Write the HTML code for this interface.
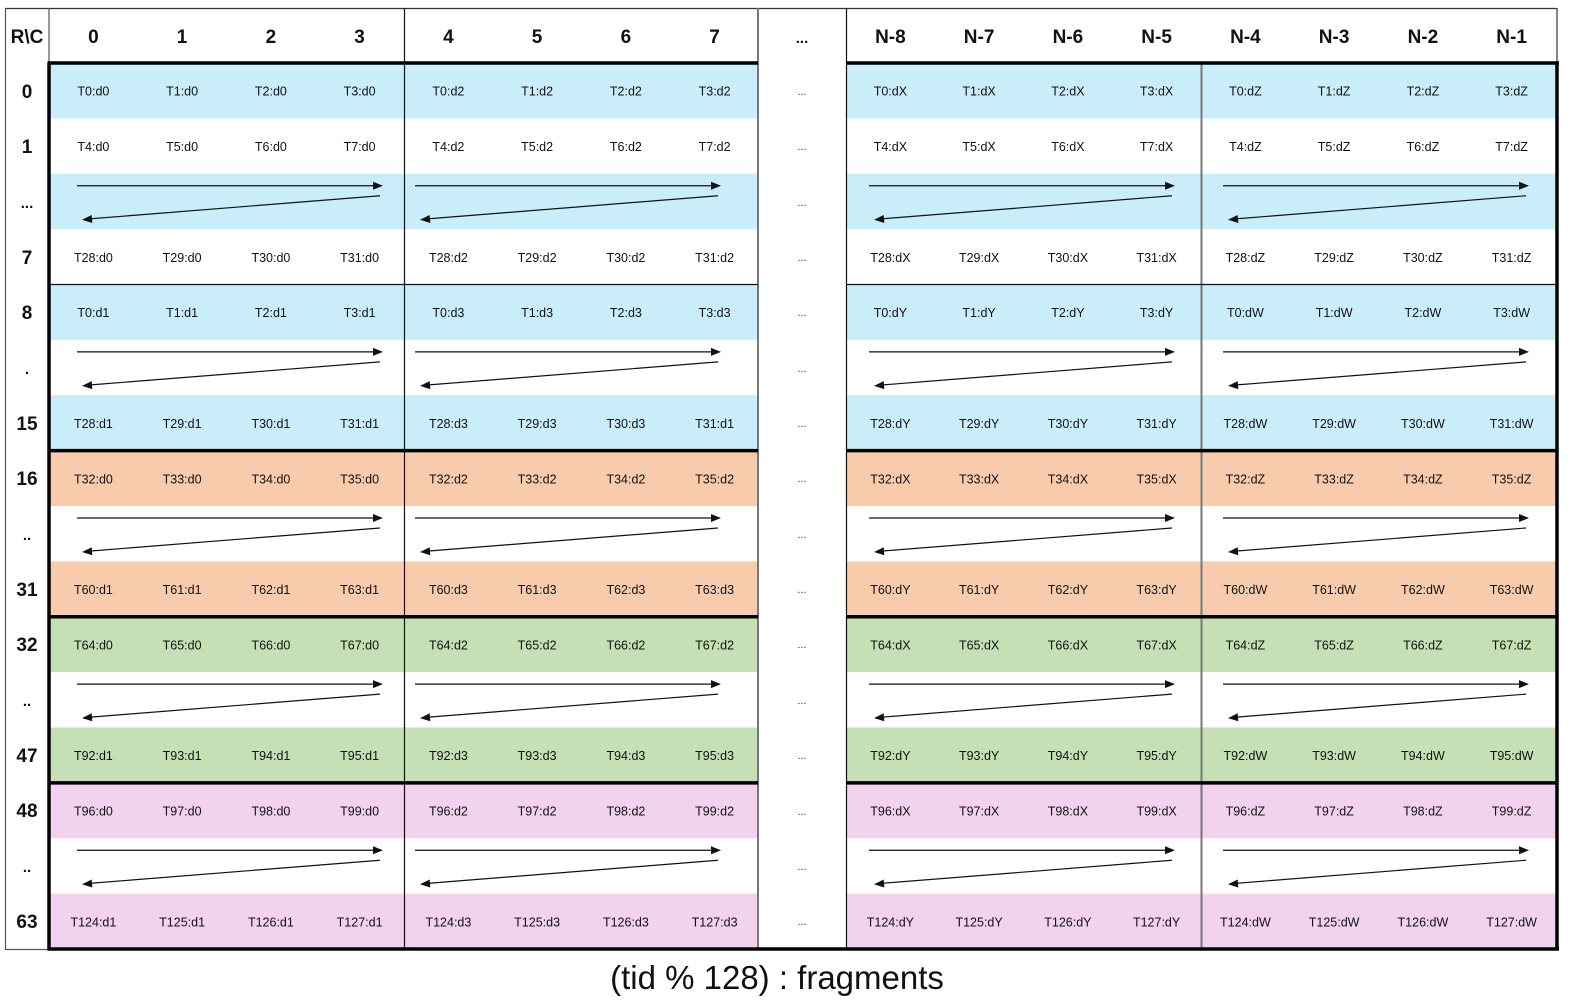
<!DOCTYPE html>
<html><head><meta charset="utf-8"><style>
html,body{margin:0;padding:0;background:#fff}
svg{display:block}
text{font-family:"Liberation Sans",sans-serif}
.c{font-size:12.5px;text-anchor:middle;fill:#111}
.h{font-size:19px;font-weight:bold;text-anchor:middle;fill:#111}
.d{font-size:11px;text-anchor:middle;fill:#333}
</style></head><body>
<svg width="1587" height="1002" viewBox="0 0 1587 1002" xmlns="http://www.w3.org/2000/svg">
<defs>
<g id="arr">
<line x1="28" y1="12" x2="326" y2="12" stroke="#111" stroke-width="1.2"/>
<polygon points="334,12 324,8 324,16" fill="#111"/>
<line x1="331" y1="22" x2="42" y2="45" stroke="#111" stroke-width="1.2"/>
<polygon points="33,46 43.3,49.2 42.7,41.2" fill="#111"/>
</g>
</defs>
<g>
<rect x="49" y="63" width="709" height="55.4" fill="#caeef9"/><rect x="846" y="63" width="711" height="55.4" fill="#caeef9"/>
<rect x="49" y="173.75" width="709" height="55.4" fill="#caeef9"/><rect x="846" y="173.75" width="711" height="55.4" fill="#caeef9"/>
<rect x="49" y="284.5" width="709" height="55.4" fill="#caeef9"/><rect x="846" y="284.5" width="711" height="55.4" fill="#caeef9"/>
<rect x="49" y="395.25" width="709" height="55.4" fill="#caeef9"/><rect x="846" y="395.25" width="711" height="55.4" fill="#caeef9"/>
<rect x="49" y="450.6" width="709" height="55.4" fill="#f8cbad"/><rect x="846" y="450.6" width="711" height="55.4" fill="#f8cbad"/>
<rect x="49" y="561.4" width="709" height="55.4" fill="#f8cbad"/><rect x="846" y="561.4" width="711" height="55.4" fill="#f8cbad"/>
<rect x="49" y="616.75" width="709" height="55.4" fill="#c5e0b4"/><rect x="846" y="616.75" width="711" height="55.4" fill="#c5e0b4"/>
<rect x="49" y="727.5" width="709" height="55.4" fill="#c5e0b4"/><rect x="846" y="727.5" width="711" height="55.4" fill="#c5e0b4"/>
<rect x="49" y="782.9" width="709" height="55.4" fill="#f2d2ef"/><rect x="846" y="782.9" width="711" height="55.4" fill="#f2d2ef"/>
<rect x="49" y="893.6" width="709" height="55.4" fill="#f2d2ef"/><rect x="846" y="893.6" width="711" height="55.4" fill="#f2d2ef"/>
</g>
<g>
<use href="#arr" x="49" y="173.75"/><use href="#arr" x="387" y="173.75"/><use href="#arr" x="841" y="173.75"/><use href="#arr" x="1195" y="173.75"/>
<use href="#arr" x="49" y="339.9"/><use href="#arr" x="387" y="339.9"/><use href="#arr" x="841" y="339.9"/><use href="#arr" x="1195" y="339.9"/>
<use href="#arr" x="49" y="506"/><use href="#arr" x="387" y="506"/><use href="#arr" x="841" y="506"/><use href="#arr" x="1195" y="506"/>
<use href="#arr" x="49" y="672.1"/><use href="#arr" x="387" y="672.1"/><use href="#arr" x="841" y="672.1"/><use href="#arr" x="1195" y="672.1"/>
<use href="#arr" x="49" y="838.25"/><use href="#arr" x="387" y="838.25"/><use href="#arr" x="841" y="838.25"/><use href="#arr" x="1195" y="838.25"/>
</g>
<g fill="none">
<line x1="5" y1="8.5" x2="1557" y2="8.5" stroke="#333" stroke-width="1.2"/>
<line x1="5.5" y1="8" x2="5.5" y2="950" stroke="#555" stroke-width="1.2"/>
<line x1="49" y1="8" x2="49" y2="63" stroke="#555" stroke-width="1.2"/>
<line x1="5" y1="949.5" x2="49" y2="949.5" stroke="#555" stroke-width="1.2"/>
<line x1="404.5" y1="8" x2="404.5" y2="949" stroke="#111" stroke-width="1.2"/>
<line x1="758" y1="8" x2="758" y2="949" stroke="#777" stroke-width="2"/>
<line x1="846.5" y1="8" x2="846.5" y2="949" stroke="#111" stroke-width="1.2"/>
<line x1="1201.5" y1="63" x2="1201.5" y2="949" stroke="#777" stroke-width="2"/>
<line x1="1557" y1="8" x2="1557" y2="63" stroke="#333" stroke-width="1.2"/>
<line x1="49" y1="284.5" x2="758" y2="284.5" stroke="#111" stroke-width="1.2"/>
<line x1="846" y1="284.5" x2="1557" y2="284.5" stroke="#111" stroke-width="1.2"/>
<g stroke="#000" stroke-width="3.5">
<line x1="47.5" y1="63" x2="758" y2="63"/><line x1="846" y1="63" x2="1559" y2="63"/>
<line x1="49" y1="450.6" x2="758" y2="450.6"/><line x1="846" y1="450.6" x2="1557" y2="450.6"/>
<line x1="49" y1="616.75" x2="758" y2="616.75"/><line x1="846" y1="616.75" x2="1557" y2="616.75"/>
<line x1="49" y1="782.9" x2="758" y2="782.9"/><line x1="846" y1="782.9" x2="1557" y2="782.9"/>
<line x1="47.5" y1="949" x2="1559" y2="949"/>
<line x1="49" y1="63" x2="49" y2="950.5"/>
<line x1="1557" y1="63" x2="1557" y2="950.5"/>
</g>
</g>
<g class="h">
<text x="27" y="43">R\C</text>
<text x="93.4" y="43">0</text><text x="182.1" y="43">1</text><text x="270.9" y="43">2</text><text x="359.6" y="43">3</text>
<text x="448.4" y="43">4</text><text x="537.1" y="43">5</text><text x="625.9" y="43">6</text><text x="714.6" y="43">7</text>
<text x="802" y="43" style="font-size:15px">...</text>
<text x="890.4" y="43">N-8</text><text x="979.1" y="43">N-7</text><text x="1067.9" y="43">N-6</text><text x="1156.6" y="43">N-5</text>
<text x="1245.4" y="43">N-4</text><text x="1334.1" y="43">N-3</text><text x="1422.9" y="43">N-2</text><text x="1511.6" y="43">N-1</text>
</g>
<g class="h">
<text x="27" y="98">0</text><text x="27" y="153">1</text><text x="27" y="208" style="font-size:15px">...</text><text x="27" y="264">7</text>
<text x="27" y="319">8</text><text x="27" y="374" style="font-size:15px">.</text><text x="27" y="430">15</text>
<text x="27" y="485">16</text><text x="27" y="540" style="font-size:15px">..</text><text x="27" y="596">31</text>
<text x="27" y="651">32</text><text x="27" y="706" style="font-size:15px">..</text><text x="27" y="762">47</text>
<text x="27" y="817">48</text><text x="27" y="872" style="font-size:15px">..</text><text x="27" y="928">63</text>
</g>
<g class="d">
<text x="802" y="95">...</text><text x="802" y="150">...</text><text x="802" y="206">...</text><text x="802" y="261">...</text>
<text x="802" y="316">...</text><text x="802" y="372">...</text><text x="802" y="427">...</text><text x="802" y="482">...</text>
<text x="802" y="538">...</text><text x="802" y="593">...</text><text x="802" y="648">...</text><text x="802" y="704">...</text>
<text x="802" y="759">...</text><text x="802" y="815">...</text><text x="802" y="870">...</text><text x="802" y="925">...</text>
</g>
<g class="c">
<text x="93.4" y="95.7">T0:d0</text><text x="182.1" y="95.7">T1:d0</text><text x="270.9" y="95.7">T2:d0</text><text x="359.6" y="95.7">T3:d0</text>
<text x="448.4" y="95.7">T0:d2</text><text x="537.1" y="95.7">T1:d2</text><text x="625.9" y="95.7">T2:d2</text><text x="714.6" y="95.7">T3:d2</text>
<text x="890.4" y="95.7">T0:dX</text><text x="979.1" y="95.7">T1:dX</text><text x="1067.9" y="95.7">T2:dX</text><text x="1156.6" y="95.7">T3:dX</text>
<text x="1245.4" y="95.7">T0:dZ</text><text x="1334.1" y="95.7">T1:dZ</text><text x="1422.9" y="95.7">T2:dZ</text><text x="1511.6" y="95.7">T3:dZ</text>

<text x="93.4" y="151">T4:d0</text><text x="182.1" y="151">T5:d0</text><text x="270.9" y="151">T6:d0</text><text x="359.6" y="151">T7:d0</text>
<text x="448.4" y="151">T4:d2</text><text x="537.1" y="151">T5:d2</text><text x="625.9" y="151">T6:d2</text><text x="714.6" y="151">T7:d2</text>
<text x="890.4" y="151">T4:dX</text><text x="979.1" y="151">T5:dX</text><text x="1067.9" y="151">T6:dX</text><text x="1156.6" y="151">T7:dX</text>
<text x="1245.4" y="151">T4:dZ</text><text x="1334.1" y="151">T5:dZ</text><text x="1422.9" y="151">T6:dZ</text><text x="1511.6" y="151">T7:dZ</text>

<text x="93.4" y="261.8">T28:d0</text><text x="182.1" y="261.8">T29:d0</text><text x="270.9" y="261.8">T30:d0</text><text x="359.6" y="261.8">T31:d0</text>
<text x="448.4" y="261.8">T28:d2</text><text x="537.1" y="261.8">T29:d2</text><text x="625.9" y="261.8">T30:d2</text><text x="714.6" y="261.8">T31:d2</text>
<text x="890.4" y="261.8">T28:dX</text><text x="979.1" y="261.8">T29:dX</text><text x="1067.9" y="261.8">T30:dX</text><text x="1156.6" y="261.8">T31:dX</text>
<text x="1245.4" y="261.8">T28:dZ</text><text x="1334.1" y="261.8">T29:dZ</text><text x="1422.9" y="261.8">T30:dZ</text><text x="1511.6" y="261.8">T31:dZ</text>

<text x="93.4" y="317.2">T0:d1</text><text x="182.1" y="317.2">T1:d1</text><text x="270.9" y="317.2">T2:d1</text><text x="359.6" y="317.2">T3:d1</text>
<text x="448.4" y="317.2">T0:d3</text><text x="537.1" y="317.2">T1:d3</text><text x="625.9" y="317.2">T2:d3</text><text x="714.6" y="317.2">T3:d3</text>
<text x="890.4" y="317.2">T0:dY</text><text x="979.1" y="317.2">T1:dY</text><text x="1067.9" y="317.2">T2:dY</text><text x="1156.6" y="317.2">T3:dY</text>
<text x="1245.4" y="317.2">T0:dW</text><text x="1334.1" y="317.2">T1:dW</text><text x="1422.9" y="317.2">T2:dW</text><text x="1511.6" y="317.2">T3:dW</text>

<text x="93.4" y="428">T28:d1</text><text x="182.1" y="428">T29:d1</text><text x="270.9" y="428">T30:d1</text><text x="359.6" y="428">T31:d1</text>
<text x="448.4" y="428">T28:d3</text><text x="537.1" y="428">T29:d3</text><text x="625.9" y="428">T30:d3</text><text x="714.6" y="428">T31:d1</text>
<text x="890.4" y="428">T28:dY</text><text x="979.1" y="428">T29:dY</text><text x="1067.9" y="428">T30:dY</text><text x="1156.6" y="428">T31:dY</text>
<text x="1245.4" y="428">T28:dW</text><text x="1334.1" y="428">T29:dW</text><text x="1422.9" y="428">T30:dW</text><text x="1511.6" y="428">T31:dW</text>

<text x="93.4" y="483.3">T32:d0</text><text x="182.1" y="483.3">T33:d0</text><text x="270.9" y="483.3">T34:d0</text><text x="359.6" y="483.3">T35:d0</text>
<text x="448.4" y="483.3">T32:d2</text><text x="537.1" y="483.3">T33:d2</text><text x="625.9" y="483.3">T34:d2</text><text x="714.6" y="483.3">T35:d2</text>
<text x="890.4" y="483.3">T32:dX</text><text x="979.1" y="483.3">T33:dX</text><text x="1067.9" y="483.3">T34:dX</text><text x="1156.6" y="483.3">T35:dX</text>
<text x="1245.4" y="483.3">T32:dZ</text><text x="1334.1" y="483.3">T33:dZ</text><text x="1422.9" y="483.3">T34:dZ</text><text x="1511.6" y="483.3">T35:dZ</text>

<text x="93.4" y="594">T60:d1</text><text x="182.1" y="594">T61:d1</text><text x="270.9" y="594">T62:d1</text><text x="359.6" y="594">T63:d1</text>
<text x="448.4" y="594">T60:d3</text><text x="537.1" y="594">T61:d3</text><text x="625.9" y="594">T62:d3</text><text x="714.6" y="594">T63:d3</text>
<text x="890.4" y="594">T60:dY</text><text x="979.1" y="594">T61:dY</text><text x="1067.9" y="594">T62:dY</text><text x="1156.6" y="594">T63:dY</text>
<text x="1245.4" y="594">T60:dW</text><text x="1334.1" y="594">T61:dW</text><text x="1422.9" y="594">T62:dW</text><text x="1511.6" y="594">T63:dW</text>

<text x="93.4" y="649.4">T64:d0</text><text x="182.1" y="649.4">T65:d0</text><text x="270.9" y="649.4">T66:d0</text><text x="359.6" y="649.4">T67:d0</text>
<text x="448.4" y="649.4">T64:d2</text><text x="537.1" y="649.4">T65:d2</text><text x="625.9" y="649.4">T66:d2</text><text x="714.6" y="649.4">T67:d2</text>
<text x="890.4" y="649.4">T64:dX</text><text x="979.1" y="649.4">T65:dX</text><text x="1067.9" y="649.4">T66:dX</text><text x="1156.6" y="649.4">T67:dX</text>
<text x="1245.4" y="649.4">T64:dZ</text><text x="1334.1" y="649.4">T65:dZ</text><text x="1422.9" y="649.4">T66:dZ</text><text x="1511.6" y="649.4">T67:dZ</text>

<text x="93.4" y="760.2">T92:d1</text><text x="182.1" y="760.2">T93:d1</text><text x="270.9" y="760.2">T94:d1</text><text x="359.6" y="760.2">T95:d1</text>
<text x="448.4" y="760.2">T92:d3</text><text x="537.1" y="760.2">T93:d3</text><text x="625.9" y="760.2">T94:d3</text><text x="714.6" y="760.2">T95:d3</text>
<text x="890.4" y="760.2">T92:dY</text><text x="979.1" y="760.2">T93:dY</text><text x="1067.9" y="760.2">T94:dY</text><text x="1156.6" y="760.2">T95:dY</text>
<text x="1245.4" y="760.2">T92:dW</text><text x="1334.1" y="760.2">T93:dW</text><text x="1422.9" y="760.2">T94:dW</text><text x="1511.6" y="760.2">T95:dW</text>

<text x="93.4" y="815.6">T96:d0</text><text x="182.1" y="815.6">T97:d0</text><text x="270.9" y="815.6">T98:d0</text><text x="359.6" y="815.6">T99:d0</text>
<text x="448.4" y="815.6">T96:d2</text><text x="537.1" y="815.6">T97:d2</text><text x="625.9" y="815.6">T98:d2</text><text x="714.6" y="815.6">T99:d2</text>
<text x="890.4" y="815.6">T96:dX</text><text x="979.1" y="815.6">T97:dX</text><text x="1067.9" y="815.6">T98:dX</text><text x="1156.6" y="815.6">T99:dX</text>
<text x="1245.4" y="815.6">T96:dZ</text><text x="1334.1" y="815.6">T97:dZ</text><text x="1422.9" y="815.6">T98:dZ</text><text x="1511.6" y="815.6">T99:dZ</text>

<text x="93.4" y="926.3">T124:d1</text><text x="182.1" y="926.3">T125:d1</text><text x="270.9" y="926.3">T126:d1</text><text x="359.6" y="926.3">T127:d1</text>
<text x="448.4" y="926.3">T124:d3</text><text x="537.1" y="926.3">T125:d3</text><text x="625.9" y="926.3">T126:d3</text><text x="714.6" y="926.3">T127:d3</text>
<text x="890.4" y="926.3">T124:dY</text><text x="979.1" y="926.3">T125:dY</text><text x="1067.9" y="926.3">T126:dY</text><text x="1156.6" y="926.3">T127:dY</text>
<text x="1245.4" y="926.3">T124:dW</text><text x="1334.1" y="926.3">T125:dW</text><text x="1422.9" y="926.3">T126:dW</text><text x="1511.6" y="926.3">T127:dW</text>
</g>
<text x="777" y="989" style="font-size:33px;text-anchor:middle;fill:#111">(tid % 128) : fragments</text>
</svg>
</body></html>
